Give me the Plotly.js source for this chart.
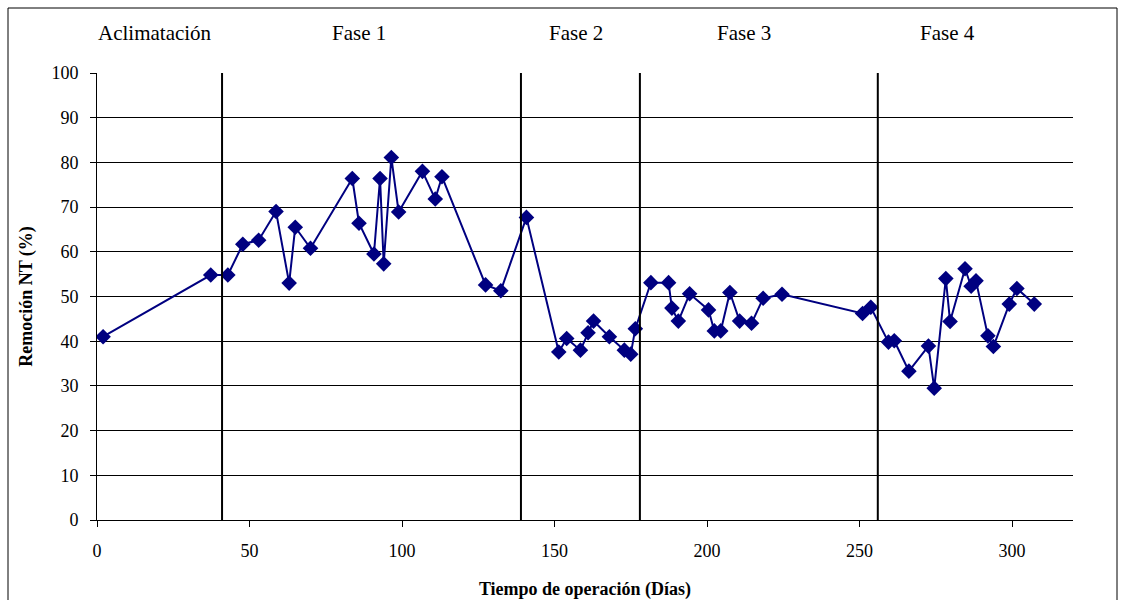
<!DOCTYPE html>
<html>
<head>
<meta charset="utf-8">
<script src="https://cdn.plot.ly/plotly-3.0.1.min.js"></script>
<style>body{margin:0;padding:0;background:#fff}#chart{width:1125px;height:600px}</style>
</head>
<body>
<div id="chart"></div>
<script>
var dias = [2, 37.3, 42.9, 47.8, 53, 58.7, 63, 65, 70, 83.7, 85.9, 90.8, 92.8, 94, 96.5, 98.9, 106.7, 110.9, 113.1, 127.4, 132.4, 140.8,
  151.4, 154, 158.5, 161, 162.8, 168, 172.9, 175, 176.5, 181.6, 187.4, 188.5, 190.6, 194.3, 200.5, 202.4, 204.5, 207.5, 210.7, 214.6, 218.4, 224.6,
  251, 253.7, 259.5, 261.4, 266.2, 272.6, 274.5, 278.3, 279.7, 284.6, 286.6, 288.2, 292.1, 293.9, 299.1, 301.6, 307.3];
var remocion = [41.0, 54.8, 54.8, 61.7, 62.6, 69.0, 53.0, 65.5, 60.8, 76.4, 66.4, 59.5, 76.4, 57.3, 81.1, 68.9, 78.0, 71.8, 76.8, 52.6, 51.3, 67.7,
  37.6, 40.6, 38.0, 41.9, 44.5, 41.0, 38.0, 37.1, 42.8, 53.1, 53.1, 47.4, 44.5, 50.6, 47.0, 42.3, 42.3, 50.9, 44.5, 44.0, 49.6, 50.5,
  46.2, 47.6, 39.8, 40.1, 33.3, 38.9, 29.5, 54.0, 44.4, 56.2, 52.3, 53.5, 41.2, 38.8, 48.3, 51.8, 48.3];
var limitesFase = [41, 139, 178, 256];
var nombresFase = ["Aclimatación", "Fase 1", "Fase 2", "Fase 3", "Fase 4"];
var posNombres = [19, 86, 157, 212, 279];
var xTicks = [0, 50, 100, 150, 200, 250, 300];
var yTicks = [0, 10, 20, 30, 40, 50, 60, 70, 80, 90, 100];

var serif = "'Liberation Serif', 'DejaVu Serif', serif";

var trace = {
  x: dias, y: remocion, type: "scatter", mode: "lines+markers",
  line: {color: "#000080", width: 2},
  marker: {symbol: "diamond", size: 12, color: "#000080"},
  hoverinfo: "x+y"
};

var shapes = limitesFase.map(function (d) {
  return {type: "line", xref: "x", yref: "y", x0: d, x1: d, y0: 0, y1: 100,
          line: {color: "#000000", width: 2}};
});
shapes.push({type: "rect", xref: "paper", yref: "paper",
  x0: (8 - 97) / 976, x1: (1117 - 97) / 976, y0: (520 - 606) / 447, y1: (520 - 8) / 447,
  line: {color: "#000000", width: 1}, fillcolor: "rgba(0,0,0,0)", layer: "below"});

var annotations = nombresFase.map(function (n, i) {
  return {text: n, x: posNombres[i], xref: "x", y: (520 - 33) / 447, yref: "paper",
          showarrow: false, xanchor: "center", yanchor: "middle",
          font: {family: serif, size: 21, color: "#000"}};
});

var layout = {
  width: 1125, height: 600,
  margin: {l: 97, r: 52, t: 73, b: 80, pad: 0},
  paper_bgcolor: "#ffffff", plot_bgcolor: "#ffffff",
  showlegend: false,
  font: {family: serif, size: 18, color: "#000"},
  xaxis: {
    range: [0, 320], tickvals: xTicks, ticktext: xTicks.map(String),
    showgrid: false, zeroline: false, showline: true, linecolor: "#000", linewidth: 1,
    ticks: "outside", ticklen: 6, tickcolor: "#000", tickfont: {family: serif, size: 18},
    ticklabelstandoff: 8,
    title: {text: "<b>Tiempo de operación (Días)</b>", font: {family: serif, size: 18}, standoff: 22}
  },
  yaxis: {
    range: [0, 100], tickvals: yTicks, ticktext: yTicks.map(String),
    showgrid: true, gridcolor: "#000", gridwidth: 1, zeroline: false,
    showline: true, linecolor: "#000", linewidth: 1,
    ticks: "outside", ticklen: 6, tickcolor: "#000", tickfont: {family: serif, size: 18},
    ticklabelstandoff: 8,
    title: {text: "<b>Remoción NT (%)</b>", font: {family: serif, size: 18}, standoff: 14}
  },
  shapes: shapes,
  annotations: annotations
};

Plotly.newPlot("chart", [trace], layout, {displayModeBar: false, staticPlot: true});
</script>
</body>
</html>
